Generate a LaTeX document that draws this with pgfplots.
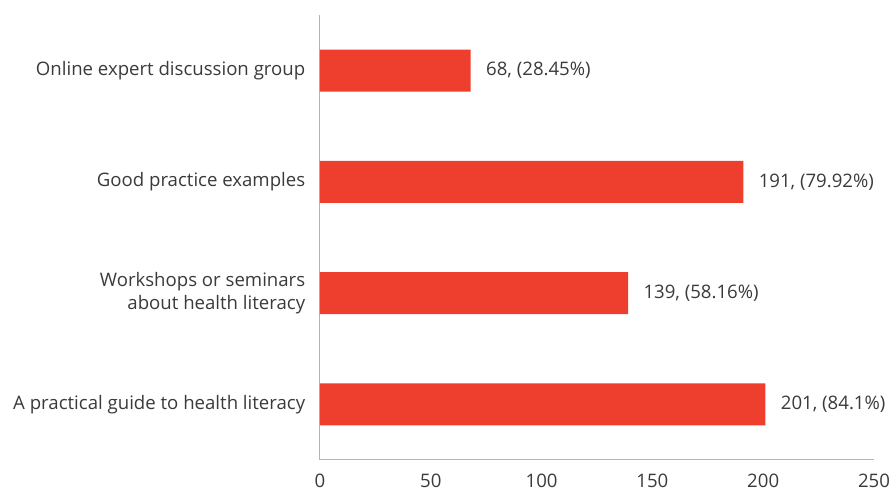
\documentclass[border=0pt]{standalone}
\usepackage{fontspec}
\setmainfont{Open Sans}
\usepackage{pgfplots}
\pgfplotsset{compat=1.18}
\definecolor{barred}{HTML}{EE3E2D}
\definecolor{txt}{HTML}{3A3A3A}
\definecolor{axgray}{HTML}{B4B4B4}
\begin{document}
\begin{tikzpicture}[x=1pt,y=1pt]
\path[use as bounding box] (0,0) rectangle (892,497);
\begin{axis}[
  at={(320pt,37pt)}, anchor=south west,
  scale only axis, width=554pt, height=445pt,
  xbar, bar width=42pt,
  xmin=0, xmax=250, ymin=0.5, ymax=4.5,
  ytick={1,2,3,4},
  yticklabels={A practical guide to health literacy,{Workshops or seminars\\about health literacy},Good practice examples,Online expert discussion group},
  yticklabel style={align=right, font=\fontsize{18.6}{23}\selectfont, text=txt, xshift=-7pt},
  xtick={0,50,100,150,200,250},
  xticklabel style={font=\fontsize{18.6}{22}\selectfont, text=txt, yshift=-10pt},
  /pgf/number format/assume math mode=true,
  tick style={draw=none},
  axis x line*=bottom, axis y line*=left,
  axis line style={draw=axgray, line width=1pt, -},
  nodes near coords, point meta=explicit symbolic,
  every node near coord/.append style={anchor=west, xshift=12pt, font=\fontsize{18.6}{22}\selectfont, text=txt},
  clip=false,
]
\addplot[fill=barred, draw=none] coordinates {
  (201,1) [{201, (84.1\%)}]
  (139,2) [{139, (58.16\%)}]
  (191,3) [{191, (79.92\%)}]
  (68,4) [{68, (28.45\%)}]
};
\end{axis}
\end{tikzpicture}
\end{document}
